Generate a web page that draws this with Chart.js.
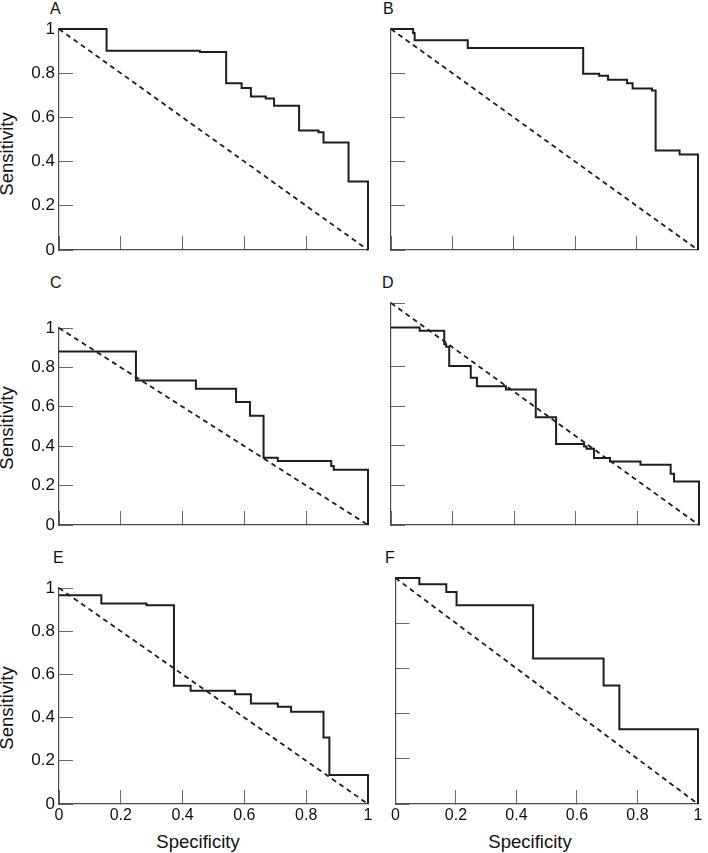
<!DOCTYPE html>
<html>
<head>
<meta charset="utf-8">
<title>ROC curves A-F</title>
<script src="https://cdn.jsdelivr.net/npm/chart.js@4.4.1/dist/chart.umd.min.js"></script>
<style>
    html, body { margin: 0; padding: 0; background: #fff; }
    body {
        width: 708px; height: 853px; position: relative; overflow: hidden;
        font-family: "Liberation Sans", Arial, Helvetica, sans-serif; color: #111;
    }
    .panel { position: absolute; }
    .letter { position: absolute; font-size: 16px; line-height: 1; }
    .ytitle {
        position: absolute; font-size: 18.5px; line-height: 1; white-space: nowrap;
        transform: translate(-50%, -50%) rotate(-90deg);
    }
    .xtitle {
        position: absolute; font-size: 18.5px; line-height: 1; white-space: nowrap;
        transform: translateX(-50%);
    }
</style>
</head>
<body>

<div class="letter" style="left:50px;top:1px">A</div>
<div class="letter" style="left:383px;top:1px">B</div>
<div class="letter" style="left:50px;top:275px">C</div>
<div class="letter" style="left:382px;top:275px">D</div>
<div class="letter" style="left:53px;top:550px">E</div>
<div class="letter" style="left:385px;top:550px">F</div>

<div class="ytitle" style="left:7px;top:154px">Sensitivity</div>
<div class="ytitle" style="left:7px;top:428px">Sensitivity</div>
<div class="ytitle" style="left:7px;top:708px">Sensitivity</div>

<div class="xtitle" style="left:198px;top:833px">Specificity</div>
<div class="xtitle" style="left:530px;top:833px">Specificity</div>

<script>
// Step curves: specificity where each step ends, sensitivity after the drop
const specA = [0, 0.154, 0.456, 0.541, 0.591, 0.621, 0.669, 0.696, 0.777, 0.840, 0.856, 0.937, 1];
const sensA = [1, 0.902, 0.896, 0.755, 0.733, 0.695, 0.686, 0.653, 0.541, 0.533, 0.486, 0.310, 0];

const specB = [0, 0.072, 0.077, 0.250, 0.626, 0.678, 0.707, 0.769, 0.787, 0.850, 0.862, 0.940, 1];
const sensB = [1, 0.982, 0.949, 0.914, 0.798, 0.789, 0.770, 0.755, 0.731, 0.722, 0.450, 0.432, 0];

const specC = [0, 0.249, 0.443, 0.573, 0.618, 0.662, 0.708, 0.881, 0.889, 1];
const sensC = [0.881, 0.734, 0.692, 0.624, 0.554, 0.342, 0.325, 0.300, 0.280, 0];

const specD = [0, 0.093, 0.173, 0.179, 0.189, 0.259, 0.279, 0.373, 0.470, 0.536, 0.627, 0.635, 0.659, 0.711, 0.810, 0.908, 0.919, 1];
const sensD = [1, 0.983, 0.915, 0.902, 0.805, 0.746, 0.703, 0.686, 0.546, 0.410, 0.398, 0.386, 0.339, 0.322, 0.305, 0.259, 0.220, 0];

const specE = [0, 0.137, 0.283, 0.372, 0.426, 0.570, 0.621, 0.708, 0.751, 0.856, 0.875, 1];
const sensE = [0.966, 0.928, 0.920, 0.547, 0.524, 0.508, 0.465, 0.450, 0.427, 0.308, 0.134, 0];

const specF = [0, 0.079, 0.168, 0.202, 0.455, 0.688, 0.740, 1];
const sensF = [1, 0.972, 0.938, 0.879, 0.644, 0.524, 0.331, 0];

// top of each sensitivity axis (D runs a little past 1)
const yMaxA = 1, yMaxB = 1, yMaxC = 1, yMaxD = 1.124, yMaxE = 1, yMaxF = 1;

// chance line runs corner to corner
const chanceSpec = [0, 1];

const xTickValues = [0, 0.2, 0.4, 0.6, 0.8, 1];
const xTickLabels = ['0', '0.2', '0.4', '0.6', '0.8', '1'];
const yTickValues = [0, 0.2, 0.4, 0.6, 0.8, 1];
const yTickLabels = ['0', '0.2', '0.4', '0.6', '0.8', '1'];

const FONT = '"Liberation Sans", Arial, Helvetica, sans-serif';
const INK = '#1e1e1e';
const AXIS = '#4d4d4d';
const TICK = '#6a6a6a';

Chart.defaults.font.family = FONT;

// layout only: plot-area box [left, top, right, bottom] and the column's left edge
const panels = [
    { spec: specA, sens: sensA, yMax: yMaxA, col: 0,   area: [59, 29, 368, 250],  yLabels: true,  xLabels: false },
    { spec: specB, sens: sensB, yMax: yMaxB, col: 375, area: [391, 29, 698, 250], yLabels: false, xLabels: false },
    { spec: specC, sens: sensC, yMax: yMaxC, col: 0,   area: [59, 328, 368, 525], yLabels: true,  xLabels: false },
    { spec: specD, sens: sensD, yMax: yMaxD, col: 375, area: [391, 303, 699, 525], yLabels: false, xLabels: false },
    { spec: specE, sens: sensE, yMax: yMaxE, col: 0,   area: [59, 588, 368, 804], yLabels: true,  xLabels: true },
    { spec: specF, sens: sensF, yMax: yMaxF, col: 375, area: [391, 578, 698, 804], yLabels: false, xLabels: true }
];

// room for label overflow, so Chart.js keeps the plot box where asked
const PAD = 30;

function buildPanel(p) {
    const [L, T, R, B] = p.area;
    const yw = L - p.col;
    const xh = p.xLabels ? 853 - B : PAD;
    const top = T - PAD;
    const width = R + PAD - p.col;
    const height = B + xh - top;

    const box = document.createElement('div');
    box.className = 'panel';
    box.style.left = p.col + 'px';
    box.style.top = top + 'px';
    const canvas = document.createElement('canvas');
    canvas.width = width;
    canvas.height = height;
    box.appendChild(canvas);
    document.body.appendChild(box);

    const yTicks = p.yMax > 1 ? yTickValues.concat([p.yMax]) : yTickValues;
    const chanceSens = [p.yMax, 0];

    new Chart(canvas, {
        type: 'line',
        data: {
            datasets: [
                {
                    data: p.spec.map((x, i) => ({ x: x, y: p.sens[i] })),
                    stepped: 'before',
                    borderColor: INK,
                    borderWidth: 2,
                    pointRadius: 0,
                    fill: false,
                    clip: false
                },
                {
                    data: chanceSpec.map((x, i) => ({ x: x, y: chanceSens[i] })),
                    borderColor: INK,
                    borderWidth: 1.8,
                    borderDash: [5, 4],
                    pointRadius: 0,
                    fill: false,
                    clip: false
                }
            ]
        },
        options: {
            responsive: false,
            animation: false,
            events: [],
            layout: { padding: { top: PAD, right: PAD, left: 0, bottom: 0 } },
            plugins: {
                legend: { display: false },
                tooltip: { enabled: false }
            },
            scales: {
                x: {
                    type: 'linear',
                    min: 0,
                    max: 1,
                    afterBuildTicks: s => { s.ticks = xTickValues.map(v => ({ value: v })); },
                    afterFit: s => { s.height = xh; },
                    grid: { drawOnChartArea: false, tickLength: -14, color: TICK, lineWidth: 1 },
                    border: { color: AXIS, width: 1.2 },
                    ticks: {
                        display: p.xLabels,
                        autoSkip: false,
                        maxRotation: 0,
                        padding: 16,
                        color: '#111',
                        font: { size: 16 },
                        callback: (v, i) => xTickLabels[i] ?? ''
                    }
                },
                y: {
                    type: 'linear',
                    min: 0,
                    max: p.yMax,
                    afterBuildTicks: s => { s.ticks = yTicks.map(v => ({ value: v })); },
                    afterFit: s => { s.width = yw; },
                    grid: { drawOnChartArea: false, tickLength: -14, color: TICK, lineWidth: 1 },
                    border: { color: AXIS, width: 1.2 },
                    ticks: {
                        display: p.yLabels,
                        autoSkip: false,
                        padding: 18,
                        color: '#111',
                        font: { size: 17 },
                        callback: (v, i) => yTickLabels[i] ?? ''
                    }
                }
            }
        }
    });
}

panels.forEach(buildPanel);
</script>
</body>
</html>
